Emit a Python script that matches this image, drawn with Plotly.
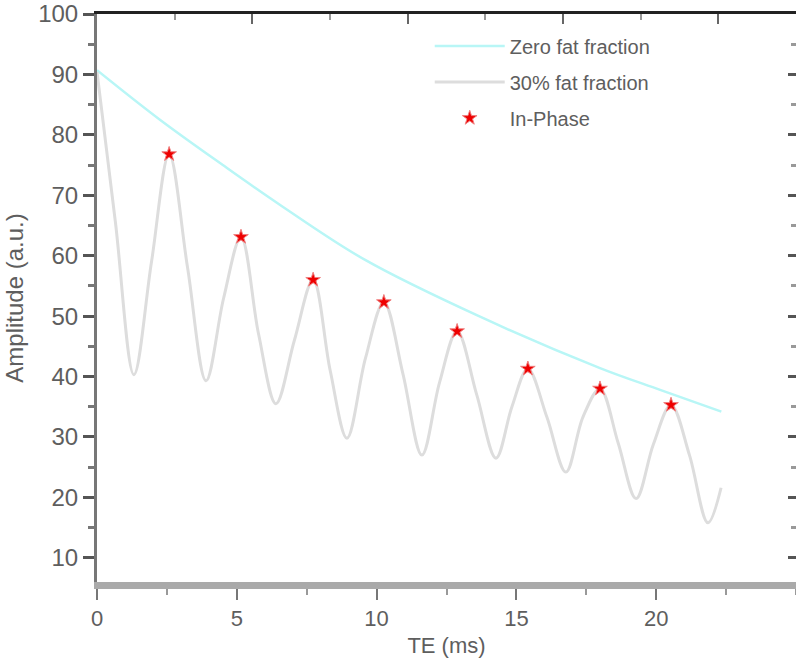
import plotly.graph_objects as go

# Zero fat fraction
zero_x = [0.0, 2.25, 4.5, 6.55, 9.59, 13.70, 17.99, 20.14, 22.33]
zero_y = [90.7, 82.5, 75.0, 68.4, 59.3, 49.9, 41.4, 37.8, 34.2]

# 30% fat fraction (peaks, mid-slopes, troughs)
fat_x = [0.00, 0.66, 1.32, 1.95, 2.58, 3.24, 3.90, 4.53, 5.15, 5.78,
         6.40, 7.06, 7.73, 8.34, 8.94, 9.60, 10.26, 10.94, 11.62, 12.25,
         12.88, 13.58, 14.27, 14.84, 15.41, 16.09, 16.77, 17.38, 17.99, 18.64,
         19.28, 19.90, 20.53, 21.19, 21.85, 22.32]
fat_y = [90.4, 65.5, 40.3, 59.0, 76.8, 58.0, 39.3, 53.0, 63.1, 47.0,
         35.5, 46.0, 56.0, 41.0, 29.8, 43.0, 52.3, 40.5, 27.0, 39.0,
         47.5, 37.0, 26.5, 35.0, 41.3, 33.3, 24.2, 33.3, 38.0, 29.0,
         19.8, 28.8, 35.3, 27.0, 15.8, 21.6]

# In-phase points
ip_x = [2.58, 5.15, 7.73, 10.26, 12.88, 15.41, 17.99, 20.53]
ip_y = [76.8, 63.1, 56.0, 52.3, 47.5, 41.3, 38.0, 35.3]

x_ticks = [0, 5, 10, 15, 20]
y_ticks = [10, 20, 30, 40, 50, 60, 70, 80, 90, 100]

FONT = "Liberation Sans, Arial, sans-serif"
TXT = "#5e5e5e"

fig = go.Figure()
fig.add_trace(go.Scatter(x=zero_x, y=zero_y, mode="lines", name="Zero fat fraction",
                         line=dict(color="#b8f6f6", width=2.5, shape="spline"),
                         legendgroup="a"))
fig.add_trace(go.Scatter(x=fat_x, y=fat_y, mode="lines", name="30% fat fraction",
                         line=dict(color="#dddddd", width=3, shape="spline", smoothing=1.0),
                         legendgroup="b"))
fig.add_trace(go.Scatter(x=ip_x, y=ip_y, mode="markers", name="In-Phase",
                         marker=dict(symbol="star", color="#ee0000", size=11,
                                     line=dict(color="#f08080", width=1)),
                         legendgroup="c"))
# carrier for the mirrored frame axes (top / right)
fig.add_trace(go.Scatter(x=[None], y=[None], xaxis="x2", yaxis="y2",
                         showlegend=False, hoverinfo="skip"))

fig.update_layout(
    width=796, height=667,
    margin=dict(l=97, r=0, t=14, b=85),
    plot_bgcolor="white", paper_bgcolor="white",
    font=dict(family=FONT, color=TXT),
    showlegend=True,
    legend=dict(x=0.476, y=0.978, xanchor="left", yanchor="top",
                bgcolor="rgba(0,0,0,0)", font=dict(size=20, color=TXT),
                tracegroupgap=7, itemwidth=70),
    xaxis=dict(range=[0, 25], tickvals=x_ticks, ticktext=[str(v) for v in x_ticks],
               showgrid=False, zeroline=False, automargin=False, ticklabeloverflow="allow",
               showline=True, linecolor="#aaaaaa", linewidth=7,
               ticks="outside", ticklen=11, tickwidth=2, tickcolor="#777777",
               minor=dict(dtick=2.5, ticks="outside", ticklen=6, tickwidth=2, tickcolor="#999999"),
               tickfont=dict(size=22, color=TXT),
               title=dict(text="TE (ms)", font=dict(size=22, color=TXT), standoff=10)),
    yaxis=dict(range=[6, 100], tickvals=y_ticks, ticktext=[str(v) for v in y_ticks],
               showgrid=False, zeroline=False, automargin=False, ticklabeloverflow="allow",
               showline=True, linecolor="#777777", linewidth=3,
               ticks="outside", ticklen=11, tickwidth=3, tickcolor="#555555",
               minor=dict(dtick=5, ticks="outside", ticklen=6, tickwidth=3, tickcolor="#777777"),
               tickfont=dict(size=24, color=TXT),
               title=dict(text="Amplitude (a.u.)", font=dict(size=24, color=TXT), standoff=8)),
    xaxis2=dict(overlaying="x", side="top", range=[0, 9], dtick=2, tick0=0,
                showgrid=False, zeroline=False, showticklabels=False, automargin=False,
                showline=True, linecolor="#222222", linewidth=3,
                ticks="inside", ticklen=10, tickwidth=2, tickcolor="#666666",
                minor=dict(dtick=1, ticks="inside", ticklen=6, tickwidth=2, tickcolor="#999999")),
    yaxis2=dict(overlaying="y", side="right", range=[6, 100], tickvals=y_ticks,
                showgrid=False, zeroline=False, showticklabels=False, showline=False,
                automargin=False,
                ticks="inside", ticklen=8, tickwidth=3, tickcolor="#555555",
                minor=dict(dtick=5, ticks="inside", ticklen=5, tickwidth=3, tickcolor="#999999")),
)

fig.write_html("out.html", config={"displayModeBar": False},
               post_script="document.body.style.margin='0px';")
